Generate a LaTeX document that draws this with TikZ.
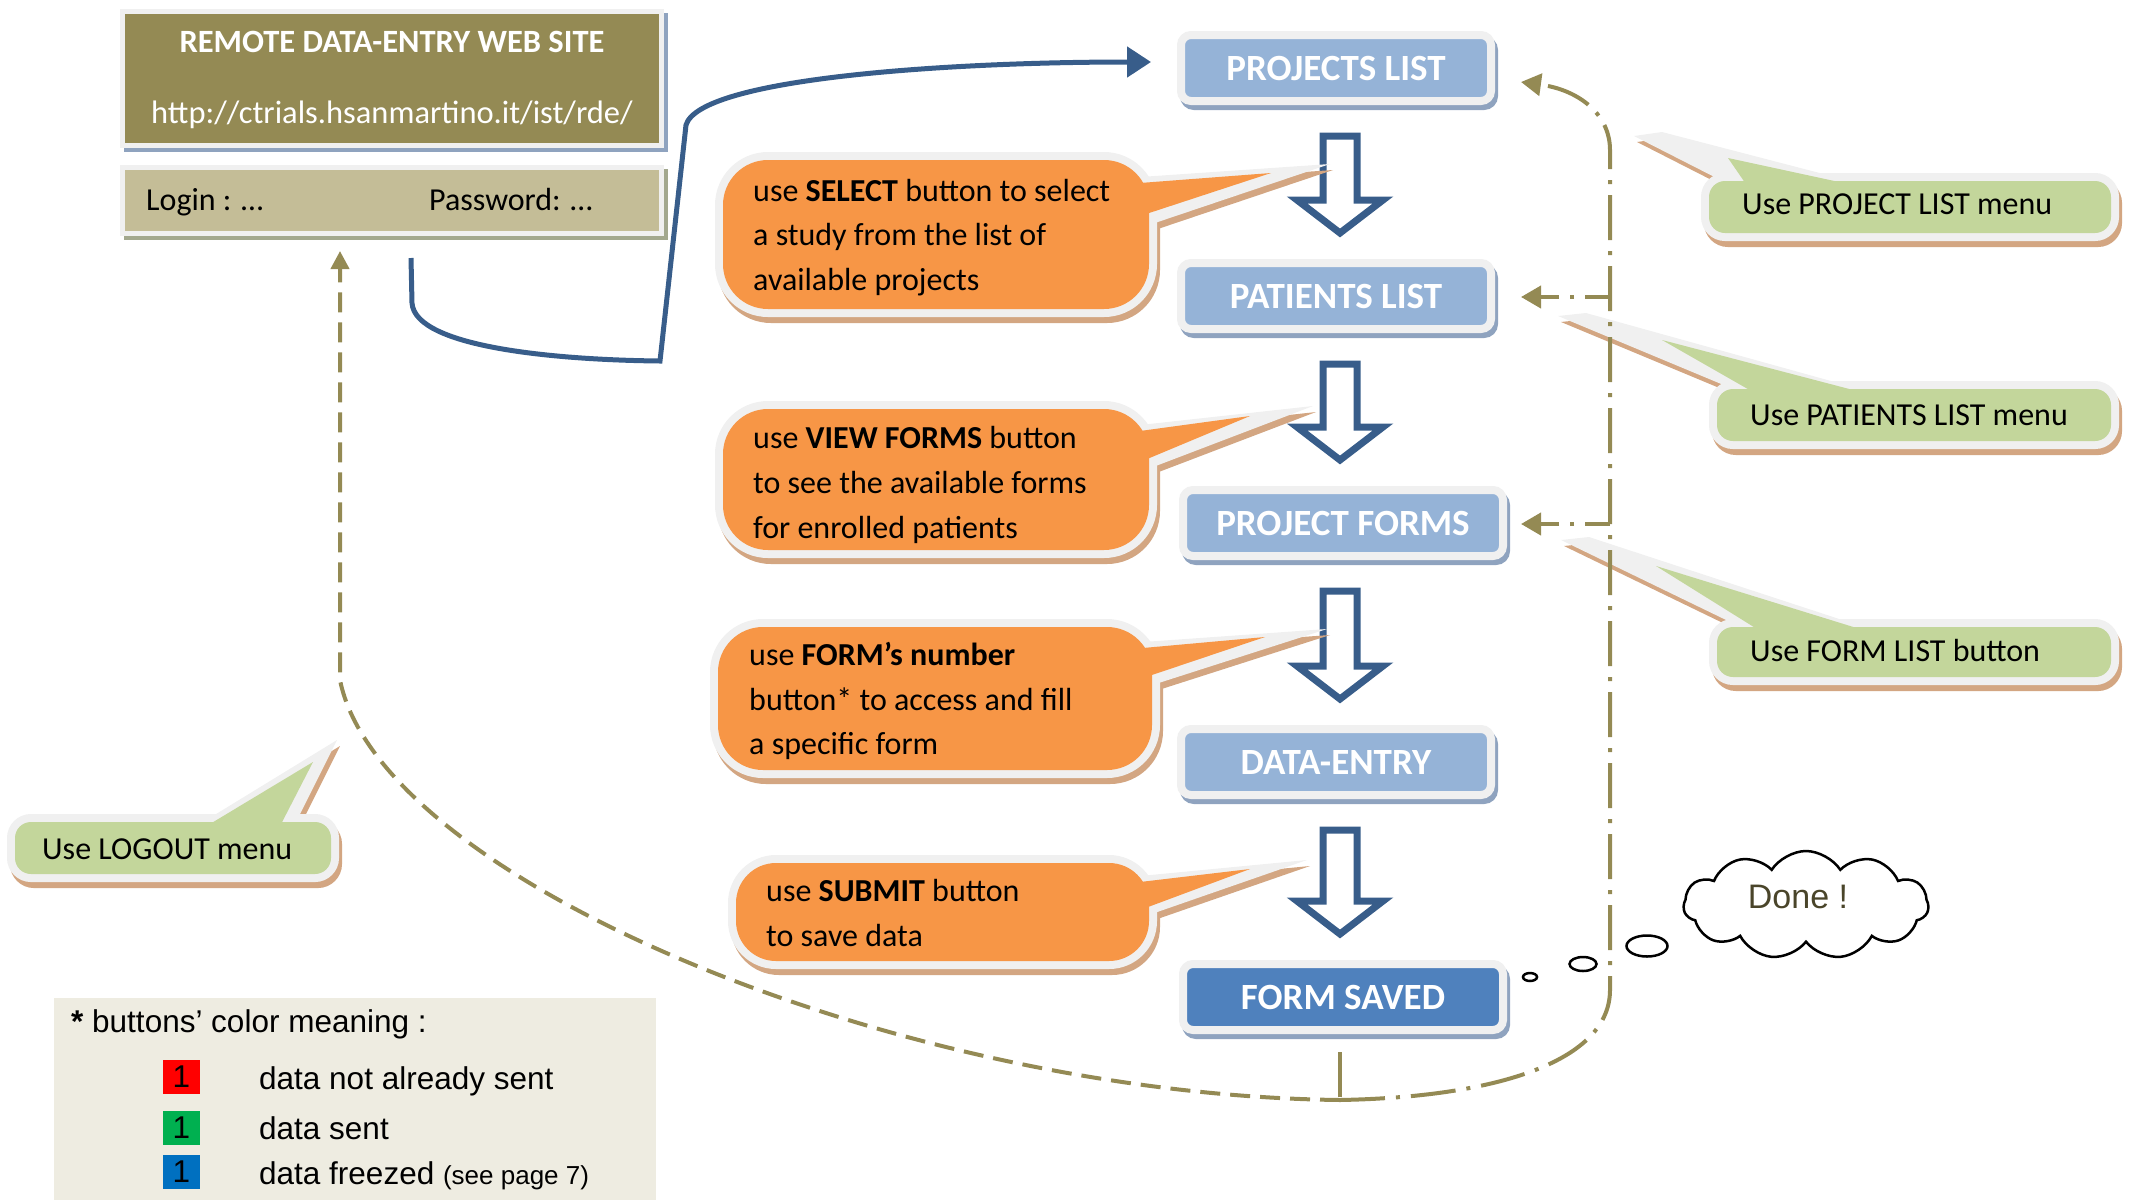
\documentclass[tikz,border=0pt]{standalone}
\usepackage{fontspec}
\setmainfont{Carlito}
\newfontfamily\arialf{Liberation Sans}
\usetikzlibrary{arrows.meta,shapes.symbols,shapes.geometric,calc}

\definecolor{olivedark}{HTML}{948A54}
\definecolor{olivelight}{HTML}{C4BD97}
\definecolor{boxblue}{HTML}{95B3D7}
\definecolor{savedblue}{HTML}{4F81BD}
\definecolor{arrowblue}{HTML}{385D8A}
\definecolor{orangec}{HTML}{F79646}
\definecolor{greenc}{HTML}{C3D69B}
\definecolor{framec}{HTML}{F0F0F0}
\definecolor{tanshadow}{HTML}{D3A682}
\definecolor{blueshadow}{HTML}{8FA3BF}
\definecolor{greyshadow}{HTML}{A3A88E}
\definecolor{lineolive}{HTML}{948A54}
\definecolor{legendbg}{HTML}{EEECE1}
\definecolor{donetext}{HTML}{4A452A}
\definecolor{redsq}{HTML}{FF0000}
\definecolor{greensq}{HTML}{00B050}
\definecolor{bluesq}{HTML}{0070C0}

\newcommand\calfont{\fontsize{32}{45}\selectfont}
\newcommand\titlefont{\fontsize{37}{42}\selectfont\bfseries}
\newcommand\legfont{\arialf\fontsize{31.5}{36}\selectfont}

% #1 fill colour, #2 radius, #3 rectangle, #4 frame polygon, #5 fill polygon
\newcommand\bubble[5]{%
  \begin{scope}[shift={(3,6)}]
    \draw[tanshadow, fill=tanshadow, line width=16pt, rounded corners=#2] #3;
    \fill[tanshadow] #4 -- cycle;
  \end{scope}
  \draw[framec, line width=16pt, rounded corners=#2] #3;
  \fill[framec] #4 -- cycle;
  \fill[#1, rounded corners=#2] #3;
  \fill[#1] #5 -- cycle;
}

\newcommand\blockarrow[2]{%
  \draw[blockarr] let \p1=(#1.south), \p2=(#2.north) in
    (1323pt,\y1-31pt) -- (1323pt,\y2+59pt) -- (1297pt,\y2+59pt) -- (1340pt,\y2+26pt)
    -- (1383pt,\y2+59pt) -- (1357pt,\y2+59pt) -- (1357pt,\y1-31pt) -- cycle;
}

\tikzset{
  bluebox/.style={draw=framec, fill=boxblue, line width=8pt, rounded corners=10pt,
    minimum width=310pt, minimum height=66pt, inner sep=0pt, text=white, font=\titlefont,
    preaction={draw=blueshadow, fill=blueshadow, line width=8pt,
      transform canvas={shift={(3pt,-5pt)}}}},
  sitebox/.style={draw=framec, line width=5pt, inner sep=0pt, minimum width=539pt},
  calltext/.style={anchor=base west, inner sep=0pt, font=\calfont},
  sitetext/.style={anchor=base, inner sep=0pt, text=white, font=\fontsize{32.5}{36}\selectfont},
  legtext/.style={anchor=base west, inner sep=0pt, font=\legfont},
  sq/.style={minimum width=37pt, minimum height=34pt, inner sep=0pt, font=\legfont},
  blockarr/.style={draw=arrowblue, fill=white, line width=7pt, line join=miter},
  bluecon/.style={draw=arrowblue, line width=5pt, -{Triangle[length=24pt,width=30pt]}},
  olivedash/.style={draw=lineolive, line width=4pt, dash pattern=on 20pt off 10pt,
    -{Triangle[length=18pt,width=18pt]}},
  olivedd/.style={draw=lineolive, line width=4pt, dash pattern=on 45pt off 11pt on 4pt off 11pt},
  thought/.style={draw=black, line width=2.5pt, ellipse, inner sep=0pt},
}

\begin{document}
\begin{tikzpicture}[x=1pt,y=-1pt]
\useasboundingbox (0,0) rectangle (2134,1200);

% ---------- web site boxes
\node[sitebox, fill=olivedark, minimum height=134pt,
  preaction={draw=blueshadow, line width=5pt, transform canvas={shift={(4pt,-4pt)}}}]
  (site) at (392,78.5) {};
\node[sitetext, font=\fontsize{32.5}{36}\selectfont\bfseries] (sitetitle) at (392,52) {REMOTE DATA-ENTRY WEB SITE};
\node[sitetext] (siteurl) at (392,123) {http://ctrials.hsanmartino.it/ist/rde/};
\node[sitebox, fill=olivelight, minimum height=66pt,
  preaction={draw=greyshadow, line width=5pt, transform canvas={shift={(4pt,-4pt)}}}]
  (login) at (392,200.5) {};
\node[calltext] (logintxt) at (146,210) {Login : …};
\node[calltext] (pwtxt) at (429,210) {Password: …};

% ---------- legend
\node[fill=legendbg, minimum width=602pt, minimum height=202pt, inner sep=0pt] (legend) at (355,1099) {};
\node[legtext] (legtitle) at (71,1032) {\textbf{*} buttons’ color meaning :};
\node[sq, fill=redsq] (sq1) at (181.5,1077) {1};
\node[sq, fill=greensq] (sq2) at (181.5,1128) {1};
\node[sq, fill=bluesq] (sq3) at (181.5,1172) {1};
\node[legtext] (leg1) at (259,1089) {data not already sent};
\node[legtext] (leg2) at (259,1139) {data sent};
\node[legtext] (leg3) at (259,1184) {data freezed {\fontsize{26}{30}\selectfont (see page 7)}};

% ---------- main flow boxes
\node[bluebox] (projects) at (1336,68) {PROJECTS LIST};
\node[bluebox] (patients) at (1336,296) {PATIENTS LIST};
\node[bluebox, minimum width=320pt] (forms) at (1343,523) {PROJECT FORMS};
\node[bluebox] (dataentry) at (1336,762) {DATA-ENTRY};
\node[bluebox, fill=savedblue, minimum width=320pt] (saved) at (1343,997) {FORM SAVED};

\blockarrow{projects}{patients}
\blockarrow{patients}{forms}
\blockarrow{forms}{dataentry}
\blockarrow{dataentry}{saved}

% ---------- orange callouts
\bubble{orangec}{45}{(723,160) rectangle (1149,309)}
  {(1140,177) -- (1330,164) -- (1140,228)}{(1140,183) -- (1271,173) -- (1140,216)}
\node[calltext] (o1a) at (753,201) {use \textbf{SELECT} button to select};
\node[calltext] (o1b) at (753,245) {a study from the list of};
\node[calltext] (o1c) at (753,290) {available projects};

\bubble{orangec}{45}{(723,409) rectangle (1149,550)}
  {(1140,425) -- (1313,406) -- (1140,472)}{(1140,431) -- (1250,416) -- (1140,462)}
\node[calltext] (o2a) at (753,448) {use \textbf{VIEW FORMS} button};
\node[calltext] (o2b) at (753,493) {to see the available forms};
\node[calltext] (o2c) at (753,538) {for enrolled patients};

\bubble{orangec}{45}{(718,627) rectangle (1152,770)}
  {(1143,642) -- (1327,629) -- (1143,688)}{(1143,648) -- (1265,637) -- (1143,678)}
\node[calltext] (o3a) at (749,665) {use \textbf{FORM’s number}};
\node[calltext] (o3b) at (749,710) {button* to access and fill};
\node[calltext] (o3c) at (749,754) {a specific form};

\bubble{orangec}{40}{(736,863) rectangle (1149,961)}
  {(1140,876) -- (1307,860) -- (1140,918)}{(1140,882) -- (1250,869) -- (1140,910)}
\node[calltext] (o4a) at (766,901) {use \textbf{SUBMIT} button};
\node[calltext] (o4b) at (766,946) {to save data};

% ---------- green callouts
\bubble{greenc}{16}{(1709,181) rectangle (2111,233)}
  {(1740,190) -- (1634,136) -- (1662,132) -- (1885,190)}{(1750,190) -- (1728,158) -- (1876,190)}
\node[calltext] (g1) at (1742,214) {Use PROJECT LIST menu};

\bubble{greenc}{16}{(1717,389) rectangle (2111,441)}
  {(1750,396) -- (1558,316) -- (1586,313) -- (1885,396)}{(1760,396) -- (1662,340) -- (1876,396)}
\node[calltext] (g2) at (1750,425) {Use PATIENTS LIST menu};

\bubble{greenc}{16}{(1717,627) rectangle (2111,677)}
  {(1755,634) -- (1561,540) -- (1589,537) -- (1885,634)}{(1765,634) -- (1656,566) -- (1876,634)}
\node[calltext] (g3) at (1750,661) {Use FORM LIST button};

\bubble{greenc}{16}{(15,822) rectangle (331,874)}
  {(190,830) -- (337,740) -- (292,830)}{(200,830) -- (313,762) -- (278,830)}
\node[calltext] (g4) at (42,859) {Use LOGOUT menu};

% ---------- blue connector
\coordinate (bstart) at ($(login.south)+(19,22)$);
\coordinate (bend) at ($(projects.west)+(-26,-6)$);
\draw[bluecon] (bstart) -- ++(1,45) .. controls +(3,45) and (560,360) .. (660,361)
  -- (686,125) .. controls (700,78) and (950,62) .. (bend);

% ---------- olive return lines
\coordinate (J) at ($(saved.south)+(-3,66)$);
\coordinate (logoutEnd) at ($(login.south)+(-52,15)$);
\coordinate (projEnd) at ($(projects.east)+(26,14)$);
\coordinate (brP) at (1610,297);
\coordinate (brF) at (1610,524);
\draw[olivedd] ($(saved.south)+(-3,18)$) -- (J);
\draw[olivedash] (J) .. controls (900,1095) and (380,880) .. (340,680) -- (logoutEnd);
\draw[olivedd, -{Triangle[length=20pt,width=22pt]}] (J) .. controls (1500,1097) and (1610,1060) .. (1610,990)
  -- (1610,150) .. controls (1610,115) and (1580,90) .. (projEnd);
\draw[olivedd, dash phase=20pt, -{Triangle[length=20pt,width=22pt]}] (brP) -- ($(patients.east)+(26,1)$);
\draw[olivedd, dash phase=20pt, -{Triangle[length=20pt,width=22pt]}] (brF) -- ($(forms.east)+(14,1)$);

% ---------- thought bubble
\node[thought, minimum width=14pt, minimum height=8pt] (t1) at (1530,977) {};
\node[thought, minimum width=27pt, minimum height=14pt] (t2) at (1583,964) {};
\node[thought, minimum width=41pt, minimum height=21pt] (t3) at (1647,946) {};
\node[cloud, draw=black, line width=2.5pt, cloud puffs=11, cloud puff arc=115, cloud ignores aspect,
  minimum width=245pt, minimum height=108pt, inner sep=0pt] (done) at (1806,905) {};
\node[anchor=base, inner sep=0pt, font=\arialf\fontsize{34}{40}\selectfont, text=donetext] (donetxt)
  at (1798,908) {Done !};
\end{tikzpicture}
\end{document}
